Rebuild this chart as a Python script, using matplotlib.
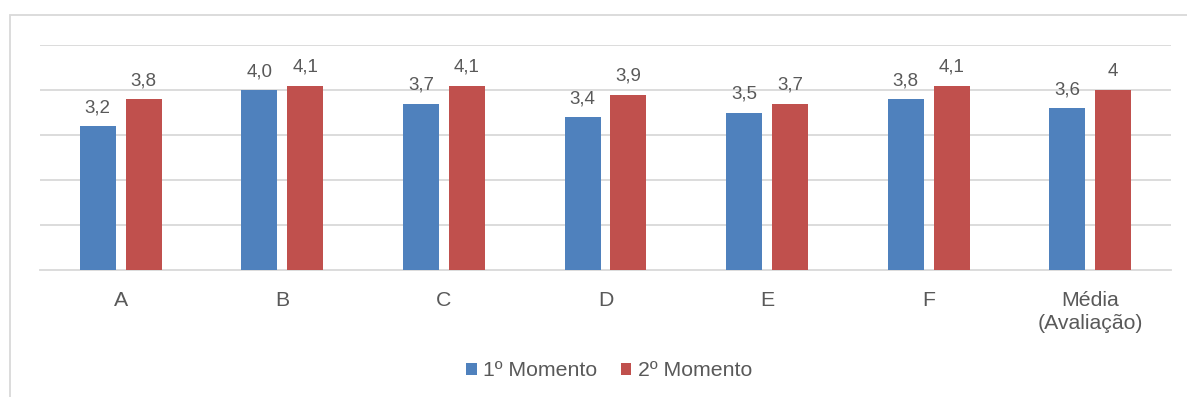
import matplotlib.pyplot as plt
import numpy as np
from matplotlib.patches import Rectangle

plt.rcParams["font.family"] = ["Liberation Sans", "DejaVu Sans"]

categories = ["A", "B", "C", "D", "E", "F", "Média\n(Avaliação)"]
momento_1 = [3.2, 4.0, 3.7, 3.4, 3.5, 3.8, 3.6]
momento_2 = [3.8, 4.1, 4.1, 3.9, 3.7, 4.1, 4.0]
labels_1 = ["3,2", "4,0", "3,7", "3,4", "3,5", "3,8", "3,6"]
labels_2 = ["3,8", "4,1", "4,1", "3,9", "3,7", "4,1", "4"]
series_names = ["1º Momento", "2º Momento"]

blue = "#4F81BD"
red = "#C0504D"
text_color = "#595959"
grid_color = "#D9D9D9"

W, H = 1187, 397
fig = plt.figure(figsize=(W / 100, H / 100), dpi=100)

# outer chart border (runs off the right and bottom edges)
fig.patches.append(Rectangle((10 / W, -0.1), 1.2, 1 - 15 / H + 0.1,
                             transform=fig.transFigure, fill=False,
                             edgecolor=grid_color, linewidth=1.3))

ax = fig.add_axes([40 / W, 1 - 270 / H, 1131 / W, 225 / H])

x = np.arange(len(categories))
width = 0.223
offset = 0.142
bars1 = ax.bar(x - offset, momento_1, width, color=blue, label=series_names[0], zorder=3)
bars2 = ax.bar(x + offset, momento_2, width, color=red, label=series_names[1], zorder=3)

for bars, labels in ((bars1, labels_1), (bars2, labels_2)):
    for b, lab in zip(bars, labels):
        ax.annotate(lab, (b.get_x() + b.get_width() / 2, b.get_height()),
                    xytext=(0, 7), textcoords="offset points",
                    ha="center", va="bottom", fontsize=13.5, color=text_color)

ax.set_xlim(-0.5, len(categories) - 0.5)
ax.set_ylim(0, 5)
ax.set_yticks(range(1, 6))
ax.yaxis.grid(True, color=grid_color, linewidth=1.3, zorder=0)
ax.tick_params(axis="y", left=False, labelleft=False)
ax.set_xticks(x)
ax.set_xticklabels(categories, fontsize=15.3, color=text_color, linespacing=1.3)
ax.tick_params(axis="x", length=0, pad=15)

for side in ("top", "left", "right"):
    ax.spines[side].set_visible(False)
ax.spines["bottom"].set_color(grid_color)
ax.spines["bottom"].set_linewidth(1.3)

fig.legend(loc="center", bbox_to_anchor=(609 / W, 1 - 371 / H), ncol=2,
           frameon=False, fontsize=15.3, handlelength=0.5, handleheight=0.5,
           handletextpad=0.3, columnspacing=1.1, labelcolor=text_color)

fig.savefig("out.png", dpi=100)
